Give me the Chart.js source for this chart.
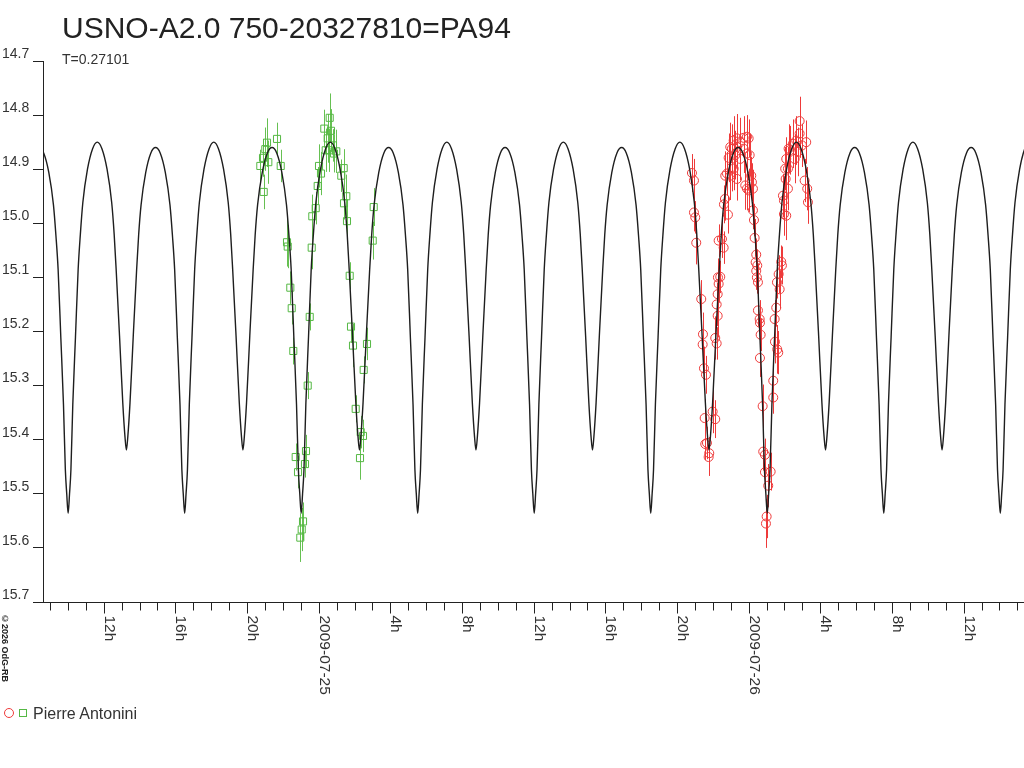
<!DOCTYPE html>
<html>
<head>
<meta charset="utf-8">
<title>USNO-A2.0 750-20327810=PA94</title>
<script src="https://cdn.jsdelivr.net/npm/chart.js@4.4.0/dist/chart.umd.min.js"></script>
<style>
    html, body { margin: 0; padding: 0; background: #fff; }
    #wrap { position: relative; width: 1024px; height: 768px; overflow: hidden;
            font-family: "Liberation Sans", Arial, sans-serif; color: #222; }
    #lc { position: absolute; left: 0; top: 0; }
    .title { position: absolute; left: 62px; top: 13px; font-size: 30px; line-height: 30px; white-space: nowrap; }
    .period { position: absolute; left: 62px; top: 52px; font-size: 14px; line-height: 14px; color: #333; }
    .legend-text { position: absolute; left: 33px; top: 706px; font-size: 16px; line-height: 16px; color: #333; white-space: nowrap; }
    .mark-circle { position: absolute; left: 4px; top: 708px; width: 8px; height: 8px; border: 1px solid #ee3a3a; border-radius: 50%; }
    .mark-square { position: absolute; left: 19px; top: 709px; width: 6px; height: 6px; border: 1px solid #55b844; }
    .copy { position: absolute; left: 0px; top: 614px; font-size: 9px; font-weight: bold; line-height: 9px;
            writing-mode: vertical-rl; white-space: nowrap; color: #222; }
</style>
</head>
<body>
<div id="wrap">
    <canvas id="lc" width="1024" height="768"></canvas>
    <div class="title">USNO-A2.0 750-20327810=PA94</div>
    <div class="period">T=0.27101</div>
    <div class="copy">©2026 OdG-RB</div>
    <span class="mark-circle"></span><span class="mark-square"></span>
    <div class="legend-text">Pierre Antonini</div>
</div>
<script>
// temps en heures depuis 2009-07-25 00:00 UT, magnitudes
const dayLabels = ['2009-07-24', '2009-07-25', '2009-07-26'];
const xMinHour = -15.39;
const xMaxHour = 39.37;
const magTicks = [14.7, 14.8, 14.9, 15.0, 15.1, 15.2, 15.3, 15.4, 15.5, 15.6, 15.7];

// modèle : une période (phase 0 = minimum principal)
const periodDays = 0.27101;
const epochHour = 12.03;
const phaseKnots = [0.000, 0.012, 0.024, 0.040, 0.063, 0.086, 0.105, 0.126, 0.166, 0.210,
                    0.250, 0.290, 0.334, 0.374, 0.395, 0.412, 0.441, 0.469, 0.488, 0.500,
                    0.512, 0.531, 0.559, 0.588, 0.605, 0.626, 0.666, 0.710, 0.750, 0.790,
                    0.834, 0.874, 0.895, 0.914, 0.937, 0.960, 0.976, 0.988];
const phaseMags = [15.536, 15.500, 15.455, 15.335, 15.210, 15.085, 15.020, 14.962, 14.900, 14.862,
                   14.850, 14.862, 14.900, 14.962, 15.020, 15.085, 15.208, 15.332, 15.395, 15.419,
                   15.395, 15.332, 15.208, 15.085, 15.022, 14.966, 14.906, 14.870, 14.860, 14.870,
                   14.906, 14.966, 15.022, 15.085, 15.210, 15.335, 15.455, 15.500];

// première nuit (carrés verts)
const greenHours = [-3.259, -3.109, -3.070, -2.980, -2.885, -2.813, -2.327, -2.121, -1.769, -1.730,
                    -1.585, -1.507, -1.418, -1.284, -1.155, -1.027, -0.949, -0.876, -0.765, -0.709,
                    -0.614, -0.502, -0.391, -0.357, -0.167, -0.056, 0.017, 0.128, 0.313, 0.391,
                    0.502, 0.575, 0.614, 0.686, 0.798, 0.854, 0.982, 1.261, 1.395, 1.412,
                    1.540, 1.579, 1.730, 1.803, 1.914, 2.065, 2.305, 2.344, 2.472, 2.511,
                    2.696, 3.014, 3.070];
const greenMags = [14.894, 14.879, 14.942, 14.863, 14.851, 14.887, 14.844, 14.894, 15.035, 15.043,
                   15.119, 15.157, 15.236, 15.432, 15.460, 15.581, 15.566, 15.551, 15.445, 15.421,
                   15.300, 15.173, 15.045, 14.987, 14.972, 14.931, 14.894, 14.908, 14.825, 14.865,
                   14.843, 14.865, 14.805, 14.829, 14.856, 14.871, 14.867, 14.912, 14.898, 14.963,
                   14.950, 14.996, 15.097, 15.191, 15.226, 15.343, 15.434, 15.386, 15.393, 15.271,
                   15.223, 15.032, 14.970];
const greenErrs = [0.030, 0.035, 0.032, 0.040, 0.045, 0.040, 0.030, 0.030, 0.045, 0.040,
                   0.030, 0.030, 0.025, 0.025, 0.030, 0.045, 0.040, 0.035, 0.025, 0.030,
                   0.025, 0.025, 0.040, 0.040, 0.030, 0.035, 0.040, 0.040, 0.035, 0.040,
                   0.045, 0.040, 0.045, 0.040, 0.030, 0.035, 0.040, 0.030, 0.035, 0.030,
                   0.040, 0.030, 0.025, 0.030, 0.040, 0.025, 0.040, 0.030, 0.030, 0.025,
                   0.030, 0.035, 0.035];

// deuxième nuit (cercles rouges)
const redHours = [20.835, 20.947, 20.947, 21.019, 21.075, 21.354, 21.432, 21.449, 21.505, 21.544,
                  21.578, 21.616, 21.673, 21.767, 21.801, 21.990, 22.135, 22.135, 22.214, 22.214,
                  22.270, 22.270, 22.286, 22.325, 22.325, 22.415, 22.509, 22.604, 22.621, 22.677,
                  22.693, 22.789, 22.844, 22.883, 22.973, 22.973, 23.067, 23.067, 23.163, 23.163,
                  23.252, 23.347, 23.347, 23.347, 23.531, 23.531, 23.721, 23.721, 23.810, 23.905,
                  23.905, 23.905, 24.000, 24.000, 24.056, 24.145, 24.184, 24.240, 24.240, 24.296,
                  24.334, 24.390, 24.424, 24.424, 24.460, 24.480, 24.519, 24.519, 24.614, 24.631,
                  24.631, 24.669, 24.781, 24.814, 24.909, 24.909, 24.965, 25.004, 25.093, 25.228,
                  25.373, 25.373, 25.451, 25.468, 25.540, 25.580, 25.596, 25.652, 25.674, 25.730,
                  25.819, 25.857, 25.914, 25.970, 25.970, 26.040, 26.065, 26.098, 26.098, 26.193,
                  26.193, 26.230, 26.288, 26.472, 26.567, 26.656, 26.751, 26.846, 26.846, 26.975,
                  27.125, 27.214, 27.270, 27.310];
const redMags = [14.907, 14.921, 14.980, 14.989, 15.036, 15.140, 15.224, 15.205, 15.268, 15.360,
                 15.408, 15.280, 15.406, 15.432, 15.425, 15.348, 15.212, 15.362, 15.150, 15.222,
                 15.131, 15.171, 15.100, 15.032, 15.112, 15.099, 15.029, 15.045, 14.965, 14.955,
                 14.912, 14.908, 14.984, 14.879, 14.859, 14.912, 14.896, 14.862, 14.847, 14.899,
                 14.874, 14.843, 14.859, 14.918, 14.850, 14.881, 14.842, 14.862, 14.930, 14.840,
                 14.871, 14.936, 14.939, 14.843, 14.874, 14.912, 14.924, 14.936, 14.976, 14.994,
                 15.027, 15.072, 15.058, 15.088, 15.100, 15.078, 15.109, 15.161, 15.177, 15.184,
                 15.249, 15.206, 15.338, 15.422, 15.428, 15.460, 15.555, 15.542, 15.485, 15.459,
                 15.291, 15.322, 15.177, 15.219, 15.156, 15.109, 15.233, 15.239, 15.094, 15.122,
                 15.071, 15.078, 14.949, 14.983, 14.958, 14.899, 14.918, 14.881, 14.986, 14.936,
                 14.899, 14.862, 14.865, 14.853, 14.881, 14.847, 14.868, 14.834, 14.811, 14.856,
                 14.921, 14.850, 14.936, 14.961];
const redErrs = [0.035, 0.040, 0.035, 0.030, 0.040, 0.035, 0.035, 0.040, 0.040, 0.035,
                 0.030, 0.035, 0.030, 0.035, 0.030, 0.040, 0.040, 0.035, 0.040, 0.030,
                 0.035, 0.040, 0.035, 0.030, 0.035, 0.030, 0.035, 0.030, 0.035, 0.040,
                 0.045, 0.040, 0.035, 0.045, 0.045, 0.045, 0.045, 0.045, 0.045, 0.040,
                 0.045, 0.045, 0.040, 0.040, 0.045, 0.040, 0.040, 0.045, 0.045, 0.040,
                 0.045, 0.040, 0.040, 0.035, 0.040, 0.035, 0.035, 0.035, 0.035, 0.030,
                 0.035, 0.030, 0.030, 0.035, 0.030, 0.030, 0.035, 0.030, 0.035, 0.030,
                 0.035, 0.030, 0.040, 0.035, 0.030, 0.035, 0.045, 0.040, 0.040, 0.035,
                 0.035, 0.030, 0.035, 0.040, 0.035, 0.030, 0.045, 0.040, 0.035, 0.035,
                 0.030, 0.035, 0.040, 0.040, 0.045, 0.040, 0.040, 0.040, 0.045, 0.040,
                 0.040, 0.045, 0.045, 0.045, 0.045, 0.045, 0.045, 0.045, 0.045, 0.040,
                 0.040, 0.040, 0.040, 0.040];

// courbe du modèle répétée sur chaque période
const periodHours = periodDays * 24;
const modelPoints = [];
for (let n = -5; n <= 4; n++) {
    phaseKnots.forEach((p, i) => {
        modelPoints.push({ x: epochHour + (n + p) * periodHours, y: phaseMags[i] });
    });
}

const toPoints = (hours, mags) => hours.map((h, i) => ({ x: h, y: mags[i] }));

// barres d'erreur verticales sous les marqueurs
const errorBars = {
    id: 'errorBars',
    beforeDatasetsDraw(chart) {
        const { ctx, scales: { x, y } } = chart;
        ctx.save();
        ctx.lineWidth = 1;
        chart.data.datasets.forEach(ds => {
            if (!ds.errors) return;
            ctx.strokeStyle = ds.barColor;
            ctx.beginPath();
            ds.data.forEach((pt, i) => {
                const px = Math.round(x.getPixelForValue(pt.x)) + 0.5;
                ctx.moveTo(px, y.getPixelForValue(pt.y - ds.errors[i]));
                ctx.lineTo(px, y.getPixelForValue(pt.y + ds.errors[i]));
            });
            ctx.stroke();
        });
        ctx.restore();
    }
};

// axe horaire : tirets chaque heure, étiquettes verticales toutes les 4 h
const hourAxis = {
    id: 'hourAxis',
    afterDraw(chart) {
        const { ctx, chartArea, scales: { x } } = chart;
        const y0 = Math.round(chartArea.bottom) + 0.5;
        ctx.save();
        ctx.strokeStyle = '#222';
        ctx.lineWidth = 1;
        ctx.beginPath();
        ctx.moveTo(36, y0);
        ctx.lineTo(chartArea.right, y0);
        for (let h = Math.ceil(x.min); h <= x.max; h++) {
            const px = Math.round(x.getPixelForValue(h)) + 0.5;
            ctx.moveTo(px, y0);
            ctx.lineTo(px, y0 + (h % 4 === 0 ? 11 : 8));
        }
        ctx.stroke();

        ctx.fillStyle = '#333';
        ctx.font = '15.5px "Liberation Sans", Arial, sans-serif';
        ctx.textAlign = 'left';
        ctx.textBaseline = 'alphabetic';
        for (let h = Math.ceil(x.min); h <= x.max; h++) {
            if (h % 4 !== 0) continue;
            const hourOfDay = ((h % 24) + 24) % 24;
            const label = hourOfDay === 0 ? dayLabels[Math.floor(h / 24) + 1] : hourOfDay + 'h';
            const px = Math.round(x.getPixelForValue(h));
            ctx.save();
            ctx.translate(px + 1, y0 + 13);
            ctx.rotate(Math.PI / 2);
            ctx.fillText(label, 0, 0);
            ctx.restore();
        }
        ctx.restore();
    }
};

new Chart(document.getElementById('lc').getContext('2d'), {
    type: 'scatter',
    data: {
        datasets: [
            {
                label: 'modèle',
                data: modelPoints,
                showLine: true,
                pointRadius: 0,
                borderColor: '#1e1e1e',
                borderWidth: 1.4,
                cubicInterpolationMode: 'monotone',
                order: 0
            },
            {
                label: 'Pierre Antonini (R)',
                data: toPoints(redHours, redMags),
                errors: redErrs,
                barColor: '#ee3a3a',
                pointStyle: 'circle',
                pointRadius: 4.5,
                borderColor: '#ee3a3a',
                backgroundColor: 'rgba(0,0,0,0)',
                borderWidth: 1,
                order: 1
            },
            {
                label: 'Pierre Antonini (V)',
                data: toPoints(greenHours, greenMags),
                errors: greenErrs,
                barColor: '#66c052',
                pointStyle: 'rect',
                pointRadius: 5,
                borderColor: '#55b844',
                backgroundColor: 'rgba(0,0,0,0)',
                borderWidth: 1,
                order: 2
            }
        ]
    },
    options: {
        responsive: false,
        devicePixelRatio: 1,
        animation: false,
        events: [],
        layout: { autoPadding: false, padding: { left: 2, right: 0, top: 61, bottom: 166 } },
        plugins: { legend: { display: false }, tooltip: { enabled: false }, title: { display: false } },
        scales: {
            x: { type: 'linear', display: false, min: xMinHour, max: xMaxHour },
            y: {
                type: 'linear',
                reverse: true,
                min: magTicks[0],
                max: magTicks[magTicks.length - 1],
                afterFit(scale) { scale.width = 41; },
                afterBuildTicks(scale) { scale.ticks = magTicks.map(v => ({ value: v })); },
                border: { display: true, color: '#222', width: 1 },
                grid: { drawOnChartArea: false, tickLength: 10, color: '#222' },
                ticks: {
                    crossAlign: 'far',
                    padding: 0,
                    labelOffset: -7,
                    color: '#333',
                    font: { family: '"Liberation Sans", Arial, sans-serif', size: 14 },
                    callback: v => Number(v).toFixed(1)
                }
            }
        }
    },
    plugins: [errorBars, hourAxis]
});
</script>
</body>
</html>
